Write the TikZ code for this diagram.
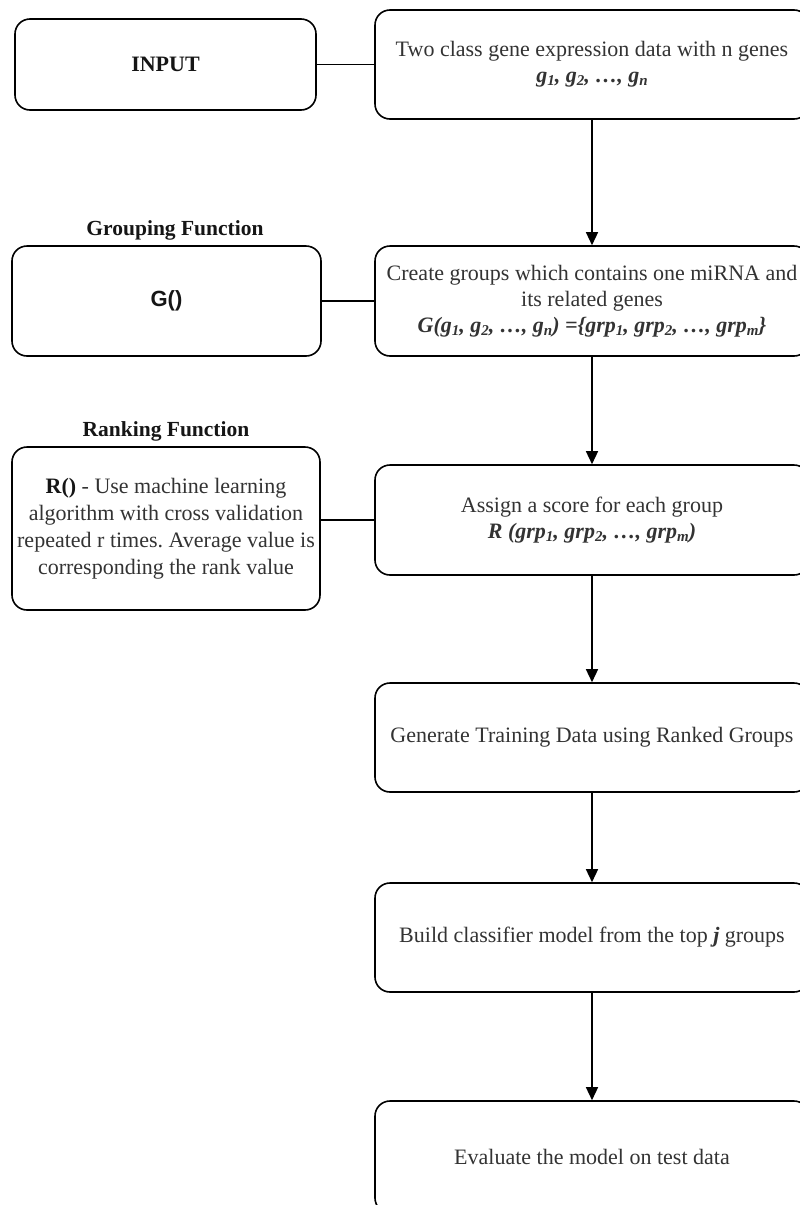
\documentclass[tikz,border=0pt]{standalone}
\usepackage{fontspec}
\setmainfont{Liberation Serif}
\newfontfamily\sansfam{Liberation Sans}
\usetikzlibrary{arrows.meta}
\definecolor{txtgray}{HTML}{333333}
\definecolor{lblblack}{HTML}{151515}
\newcommand\subidx[1]{\raisebox{-0.3ex}{\fontsize{15}{15}\selectfont #1}}
\frenchspacing
\begin{document}
\begin{tikzpicture}[x=1pt,y=-1pt,
  box/.style={draw=black, line width=1.6pt, rounded corners=15pt, inner sep=0pt,
    align=center, text=txtgray, font=\fontsize{22}{26}\selectfont},
  rbox/.style={box, minimum width=434pt},
  lbl/.style={inner sep=0pt, text=lblblack, font=\fontsize{21.5}{24}\selectfont\bfseries},
  link/.style={draw=black, line width=1.4pt},
  flow/.style={draw=black, line width=1.4pt, -{Triangle[length=13pt,width=12pt]}},
]
\fill[white] (0,0) rectangle (800,1205);
\useasboundingbox (0,0) rectangle (800,1205);

% right column
\node[rbox, minimum height=109pt] (b1) at (592,64.5)
  {Two class gene expression data with n genes\\
   {\bfseries\itshape g\subidx{1}, g\subidx{2}, …, g\subidx{n}}};
\node[rbox, minimum height=110pt] (b2) at (592,301)
  {Create groups which contains one miRNA and\\ its related genes\\
   {\bfseries\itshape G(g\subidx{1}, g\subidx{2}, …, g\subidx{n}) =\{grp\subidx{1}, grp\subidx{2}, …, grp\subidx{m}\}}};
\node[rbox, minimum height=110pt] (b3) at (592,520)
  {Assign a score for each group\\
   {\bfseries\itshape R (grp\subidx{1}, grp\subidx{2}, …, grp\subidx{m})}};
\node[rbox, minimum height=109pt] (b4) at (592,737.5)
  {Generate Training Data using Ranked Groups};
\node[rbox, minimum height=109pt] (b5) at (592,937.5)
  {Build classifier model from the top {\bfseries\itshape j} groups};
\node[rbox, minimum height=112pt] (b6) at (592,1157)
  {Evaluate the model on test data};

% left column
\node[box, minimum width=301pt, minimum height=91pt, text=lblblack] (inp) at (165.5,64.5)
  {\bfseries INPUT};
\node[box, minimum width=309pt, minimum height=110pt, text=lblblack] (gf) at (166.5,301)
  {\sansfam\bfseries G()};
\node[box, minimum width=308pt, minimum height=163pt, font=\fontsize{22}{27}\selectfont] (rf) at (166,528.5)
  {{\bfseries\color{lblblack}R()} - Use machine learning\\
   algorithm with cross validation\\
   repeated r times. Average value is\\
   corresponding the rank value};

\node[lbl] (glbl) at (175,230) {Grouping Function};
\node[lbl] (rlbl) at (166,431) {Ranking Function};

% connectors
\draw[link] (inp) -- (b1);
\draw[link] (gf) -- (b2);
\draw[link] (b3.west) -- (b3.west -| rf.east);

\draw[flow] (b1) -- (b2);
\draw[flow] (b2) -- (b3);
\draw[flow] (b3) -- (b4);
\draw[flow] (b4) -- (b5);
\draw[flow] (b5) -- (b6);
\end{tikzpicture}
\end{document}
